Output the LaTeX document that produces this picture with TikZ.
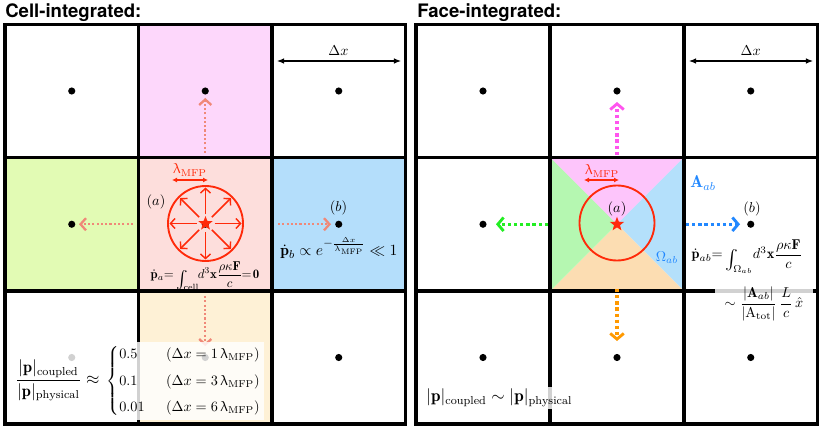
\documentclass[tikz,border=0pt]{standalone}
\usepackage{amsmath}
\usepackage{amssymb}
\usepackage{upgreek}
\usepackage{graphicx}
\usepackage{fontspec}
\newfontfamily\titlefont{TeX Gyre Heros}
\usetikzlibrary{arrows.meta,shapes.geometric,calc}
\newcommand{\myint}{\mathop{\raisebox{-4.5pt}{\scalebox{1.35}{$\int$}}}\nolimits}
\definecolor{lpink}{HTML}{FDD7FB}
\definecolor{lgreen}{HTML}{E2FBB4}
\definecolor{lsalmon}{HTML}{FDDEDC}
\definecolor{lblue}{HTML}{B4DEFB}
\definecolor{lpeach}{HTML}{FEF1D6}
\definecolor{salmonarr}{HTML}{F08878}
\definecolor{myred}{HTML}{FF2A0A}
\definecolor{tpink}{HTML}{FDC5FB}
\definecolor{tgreen}{HTML}{B5F7B1}
\definecolor{tblue}{HTML}{B4E0FB}
\definecolor{tpeach}{HTML}{FCDDB2}
\definecolor{amag}{HTML}{FF55EE}
\definecolor{agreen}{HTML}{22EE22}
\definecolor{ablue}{HTML}{2288FF}
\definecolor{aorange}{HTML}{FF9900}
\begin{document}
\begin{tikzpicture}[x=0.7pt,y=-0.7pt,
  gridline/.style={line width=2.4pt,line join=miter},
  dotnode/.style={circle,fill=black,inner sep=0pt,minimum size=5pt},
  ltdot/.style={line width=1.7pt,dash pattern=on 1.5pt off 1.5pt,color=salmonarr,-{Straight Barb[length=3.8pt,width=8.5pt,line width=1.6pt]}},
  rtdot/.style={line width=2.3pt,dash pattern=on 2.3pt off 2pt,-{Straight Barb[length=4pt,width=9.5pt,line width=2pt]}},
  circarr/.style={line width=1pt,myred,-{Straight Barb[length=3.2pt,width=7pt]}},
  mfparr/.style={line width=1pt,myred,{Latex[length=3.5pt,width=3.5pt]}-{Latex[length=3.5pt,width=3.5pt]}},
  dxarr/.style={line width=0.8pt,{Latex[length=5pt,width=4pt]}-{Latex[length=5pt,width=4pt]}},
  redcirc/.style={line width=1.3pt,myred},
  redstar/.style={star,star points=5,star point ratio=2.4,fill=myred,inner sep=0pt,minimum size=10.5pt},
  titletext/.style={anchor=base west,inner sep=0pt,font=\titlefont\fontsize{13}{15}\selectfont\bfseries},
  wbox/.style={fill=white,fill opacity=0.82,text opacity=1,inner sep=1.5pt}
]
\useasboundingbox (0,0) rectangle (822,431);
% ---------------- LEFT PANEL ----------------
\node[titletext] (t1) at (5,17.5) {Cell-integrated:};
\fill[lpink] (138.5,24.5) rectangle (272,157.5);
\fill[lgreen] (5,157.5) rectangle (138.5,291);
\fill[lsalmon] (138.5,157.5) rectangle (272,291);
\fill[lblue] (272,157.5) rectangle (405.5,291);
\fill[lpeach] (138.5,291) rectangle (272,424);
\draw[gridline] (5,24.5) rectangle (405.5,424);
\draw[gridline] (138.5,24.5) -- (138.5,424) (272,24.5) -- (272,424)
  (5,157.5) -- (405.5,157.5) (5,291) -- (405.5,291);
\foreach \i/\x in {1/71.75,2/205.25,3/338.75}
  \foreach \j/\y in {1/91,2/224.25,3/357.5}
    \node[dotnode] (L\i\j) at (\x,\y) {};
% delta x
\coordinate (ldxa) at (277,61);
\coordinate (ldxb) at (401,61);
\draw[dxarr] (ldxa) -- (ldxb);
\node (ldx) at (338.5,51) {$\Delta x$};
% circle with arrows
\coordinate (ca) at (205.5,223.5);
\draw[redcirc] (ca) circle[radius=37.5];
\foreach \a in {0,45,...,315}
  \draw[circarr] ($(ca)+(\a:9)$) -- ($(ca)+(\a:36)$);
\node[redstar] (lstar) at (ca) {};
\coordinate (lma) at (172,180);
\coordinate (lmb) at (208,180);
\draw[mfparr] (lma) -- (lmb);
\node[text=myred,inner sep=0pt] (lmfp) at (190,170) {$\uplambda_{\rm MFP}$};
\node (la) at (156,202) {$(a)$};
\node[inner sep=0pt] (leq) at (205,276) {\scalebox{0.9}{$\dot{\mathbf p}_a{=}\myint_{\mkern-7mu\rm cell}\mkern-5mu\displaystyle d^3\mathbf x\frac{\rho\kappa\mathbf F}{c}\mkern-1mu{=}\mkern2mu\mathbf 0$}};
\node (lb) at (338.5,208) {$(b)$};
\node[font=\fontsize{11}{13}\selectfont] (lbeq) at (339,248) {$\dot{\mathbf p}_b\propto e^{-\frac{\Delta x}{\uplambda_{\rm MFP}}}\ll 1$};
% dotted arrows
\draw[ltdot] (205.25,153) -- (205.25,98);
\draw[ltdot] (133,224.25) -- (79,224.25);
\draw[ltdot] (278,224.25) -- (331,224.25);
\draw[ltdot] (205.25,296) -- (205.25,346);
% overlay
\node[wbox,anchor=west] (lov) at (13,381) {$\text{\fontsize{11.5}{13}\selectfont$\displaystyle\frac{|\mathbf p|_{\rm coupled}}{|\mathbf p|_{\rm physical}}\approx$}\mkern6mu
  \begin{cases}0.5 &\hspace{5pt}(\Delta x=1\,\uplambda_{\rm MFP})\\[4pt]
  0.1 &\hspace{5pt}(\Delta x=3\,\uplambda_{\rm MFP})\\[4pt]
  0.01 &\hspace{5pt}(\Delta x=6\,\uplambda_{\rm MFP})\end{cases}$};
% ---------------- RIGHT PANEL ----------------
\node[titletext] (t2) at (417,17.5) {Face-integrated:};
\coordinate (rc) at (617,224.25);
\fill[tpink] (550,157.5) -- (684,157.5) -- (rc) -- cycle;
\fill[tblue] (684,157.5) -- (684,291) -- (rc) -- cycle;
\fill[tpeach] (684,291) -- (550,291) -- (rc) -- cycle;
\fill[tgreen] (550,291) -- (550,157.5) -- (rc) -- cycle;
\draw[gridline] (416,24.5) rectangle (817.5,424);
\draw[gridline] (550,24.5) -- (550,424) (684,24.5) -- (684,424)
  (416,157.5) -- (817.5,157.5) (416,291) -- (817.5,291);
\foreach \i/\x in {1/483,3/750.75}
  \foreach \j/\y in {1/91,2/224.25,3/357.5}
    \node[dotnode] (R\i\j) at (\x,\y) {};
\node[dotnode] (R21) at (617,91) {};
\node[dotnode] (R23) at (617,357.5) {};
\coordinate (rdxa) at (689,61);
\coordinate (rdxb) at (813,61);
\draw[dxarr] (rdxa) -- (rdxb);
\node (rdx) at (750.75,51) {$\Delta x$};
\coordinate (cb) at (617,223);
\draw[redcirc] (cb) circle[radius=37.5];
\node[redstar] (rstar) at (rc) {};
\coordinate (rma) at (584,180);
\coordinate (rmb) at (619,180);
\draw[mfparr] (rma) -- (rmb);
\node[text=myred,inner sep=0pt] (rmfp) at (602,171) {$\uplambda_{\rm MFP}$};
\node (ra) at (617,209) {$(a)$};
\node[text=ablue,font=\large] (rA) at (703,183) {$\mathbf A_{ab}$};
\node[text=ablue] (rO) at (667,258) {$\Omega_{ab}$};
\node (rb) at (752,209) {$(b)$};
\node[anchor=base] (req) at (747,259) {$\dot{\mathbf p}_{ab}{=}\myint_{\mkern-7mu\Omega_{ab}}\mkern-3mu\displaystyle d^3\mathbf x\frac{\rho\kappa\mathbf F}{c}$};
% dotted arrows
\draw[rtdot,amag] (617,155) -- (617,102);
\draw[rtdot,agreen] (548,224.25) -- (496,224.25);
\draw[rtdot,ablue] (686,224.25) -- (740,224.25);
\draw[rtdot,aorange] (617,289) -- (617,341);
% overlays
\node[wbox,minimum width=68pt,inner sep=1pt] (rov) at (764,304) {$\displaystyle\sim\frac{|\mathbf A_{ab}|}{|{\rm A}_{\rm tot}|}\,\frac{L}{c}\,\hat x$};
\node[wbox,anchor=west,font=\large] (rov2) at (424,398) {$|\mathbf p|_{\rm coupled}\sim|\mathbf p|_{\rm physical}$};
\end{tikzpicture}
\end{document}
